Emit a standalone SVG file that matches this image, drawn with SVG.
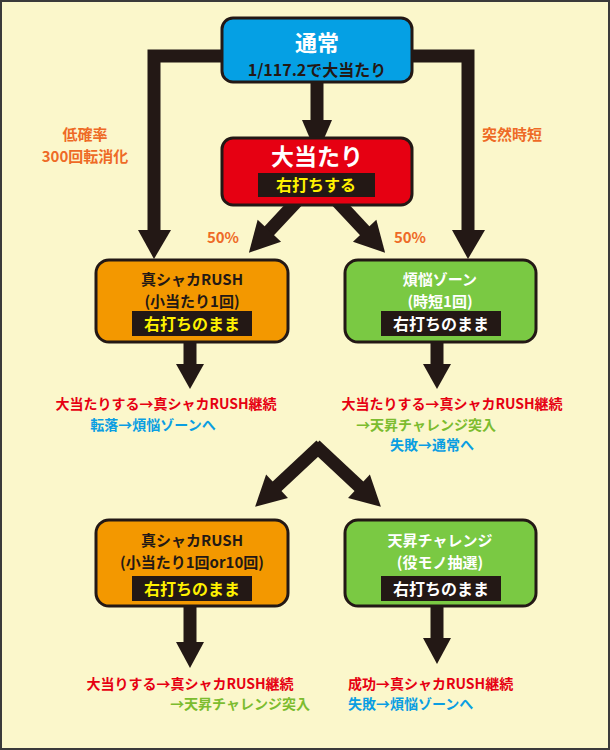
<svg xmlns="http://www.w3.org/2000/svg" width="610" height="750" viewBox="0 0 610 750">
<style>
text{font-family:"Noto Sans CJK JP","Noto Sans",sans-serif;font-weight:bold;text-anchor:middle}
.box{stroke:#231815;stroke-width:3}
.ar{fill:#231815}
.sh{stroke:#231815;stroke-width:13;fill:none}
.o{fill:#ee6a26;font-size:15px}
.r{fill:#e60012;font-size:14px}
.b{fill:#0a9ee2;font-size:14px}
.g{fill:#7cbc2f;font-size:14px}
.lbl{fill:#231815}
</style>
<rect x="1" y="1" width="608" height="748" fill="#fbf7cb" stroke="#3a3a3a" stroke-width="2"/>
<g id="connectors">
<path class="sh" d="M222 56H154V232"/>
<path class="ar" d="M138 230H171L154 259Z"/>
<path class="sh" d="M412 56H468V232"/>
<path class="ar" d="M452 230H485L468 259Z"/>
<path class="sh" d="M317 82V124"/>
<path class="ar" d="M302 120H332L317 155Z"/>
<g transform="translate(298,200) rotate(43)"><path class="sh" d="M0 0V45"/><path class="ar" d="M-16 42H16L0 72Z"/></g>
<g transform="translate(336,200) rotate(-43)"><path class="sh" d="M0 0V45"/><path class="ar" d="M-16 42H16L0 72Z"/></g>
<path class="sh" d="M190 342V368"/>
<path class="ar" d="M176 364H204L190 389Z"/>
<path class="sh" d="M437 342V368"/>
<path class="ar" d="M423 364H451L437 389Z"/>
<g transform="translate(318,448) rotate(47)"><path class="sh" d="M0 -4V60"/><path class="ar" d="M-16 56H16L0 86Z"/></g>
<g transform="translate(318,448) rotate(-47)"><path class="sh" d="M0 -4V60"/><path class="ar" d="M-16 56H16L0 86Z"/></g>
<path class="sh" d="M190 606V646"/>
<path class="ar" d="M176 642H204L190 668Z"/>
<path class="sh" d="M437 606V642"/>
<path class="ar" d="M423 638H451L437 664Z"/>
</g>
<text class="o" x="85" y="140">低確率</text>
<text class="o" x="85" y="162">300回転消化</text>
<text class="o" x="512" y="140">突然時短</text>
<text class="o" x="223" y="243">50%</text>
<text class="o" x="410" y="243">50%</text>
<g id="n1"><rect class="box" x="222" y="18" width="190" height="64" rx="11" fill="#05a0e4"/>
<text x="317" y="51" fill="#fff" font-size="22">通常</text>
<text x="317" y="76" class="lbl" font-size="16">1/117.2で大当たり</text></g>
<g id="n2"><rect class="box" x="222" y="138" width="190" height="67" rx="11" fill="#e60012"/>
<text x="317" y="165" fill="#fff" font-size="23">大当たり</text>
<rect x="258" y="173" width="117" height="24" fill="#231815"/>
<text x="316" y="191" fill="#fff100" font-size="16">右打ちする</text></g>
<g id="n3"><rect class="box" x="96" y="260" width="192" height="82" rx="13" fill="#f39800"/>
<text x="192" y="285" class="lbl" font-size="15">真シャカRUSH</text>
<text x="192" y="307" class="lbl" font-size="15">(小当たり1回)</text>
<rect x="132" y="311" width="120" height="25" fill="#231815"/>
<text x="192" y="330" fill="#fff100" font-size="16">右打ちのまま</text></g>
<g id="n4"><rect class="box" x="345" y="260" width="191" height="82" rx="13" fill="#7ac943"/>
<text x="440" y="285" fill="#fff" font-size="15">煩悩ゾーン</text>
<text x="440" y="307" fill="#fff" font-size="15">(時短1回)</text>
<rect x="381" y="311" width="120" height="25" fill="#231815"/>
<text x="441" y="330" fill="#fff" font-size="16">右打ちのまま</text></g>
<text class="r" x="166" y="409">大当たりする→真シャカRUSH継続</text>
<text class="b" x="153" y="430">転落→煩悩ゾーンへ</text>
<text class="r" x="452" y="409">大当たりする→真シャカRUSH継続</text>
<text class="g" x="496" y="430" style="text-anchor:end">→天昇チャレンジ突入</text>
<text class="b" x="390" y="450" style="text-anchor:start">失敗→通常へ</text>
<g id="n5"><rect class="box" x="96" y="520" width="192" height="86" rx="13" fill="#f39800"/>
<text x="192" y="546" class="lbl" font-size="15">真シャカRUSH</text>
<text x="192" y="568" class="lbl" font-size="15">(小当たり1回or10回)</text>
<rect x="132" y="576" width="120" height="25" fill="#231815"/>
<text x="192" y="595" fill="#fff100" font-size="16">右打ちのまま</text></g>
<g id="n6"><rect class="box" x="345" y="520" width="191" height="86" rx="13" fill="#7ac943"/>
<text x="440" y="546" fill="#fff" font-size="15">天昇チャレンジ</text>
<text x="440" y="568" fill="#fff" font-size="15">(役モノ抽選)</text>
<rect x="381" y="576" width="120" height="25" fill="#231815"/>
<text x="441" y="595" fill="#fff" font-size="16">右打ちのまま</text></g>
<text class="r" x="190" y="689">大当りする→真シャカRUSH継続</text>
<text class="g" x="310" y="709" style="text-anchor:end">→天昇チャレンジ突入</text>
<text class="r" x="348" y="689" style="text-anchor:start">成功→真シャカRUSH継続</text>
<text class="b" x="348" y="709" style="text-anchor:start">失敗→煩悩ゾーンへ</text>
</svg>
